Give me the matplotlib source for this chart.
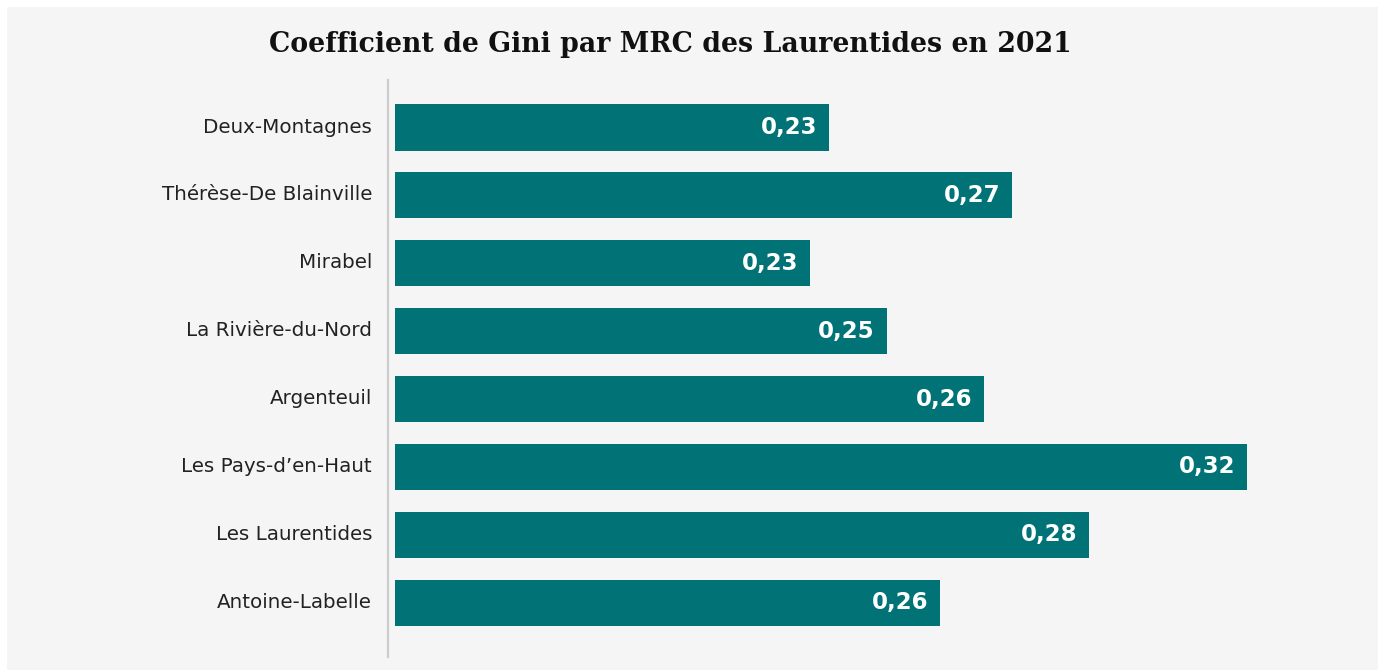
import matplotlib.pyplot as plt
from matplotlib.patches import Rectangle
from matplotlib.transforms import ScaledTranslation

# MRC names, top to bottom
mrc = ['Deux-Montagnes', 'Thérèse-De Blainville', 'Mirabel', 'La Rivière-du-Nord',
       'Argenteuil', 'Les Pays-d\u2019en-Haut', 'Les Laurentides', 'Antoine-Labelle']
# Gini values as printed on the bars
gini_labels = ['0,23', '0,27', '0,23', '0,25', '0,26', '0,32', '0,28', '0,26']
# bar ends (the chart's baseline is not zero)
gini = [0.2301, 0.2695, 0.2260, 0.2425, 0.2634, 0.3201, 0.2860, 0.2540]
base = 0.1366

W, H = 1378, 670
fig = plt.figure(figsize=(W / 100, H / 100), dpi=100)
fig.patch.set_facecolor('white')
# grey panel with white border on top/left
fig.add_artist(Rectangle((7 / W, -0.01), 1.01, 1.01 - 7 / H, transform=fig.transFigure,
                         facecolor='#f5f5f5', edgecolor='none', zorder=-10))

left_px, right_px, top_px, bot_px = 388, 1300, 80, 657
ax = fig.add_axes([left_px / W, 1 - bot_px / H, (right_px - left_px) / W, (bot_px - top_px) / H])
ax.set_facecolor('none')

teal = '#017377'
y = list(range(len(mrc)))
bars = ax.barh(y, [g - base for g in gini], left=base, height=0.68, color=teal)

x_lo = base - 7 / 4644
ax.set_xlim(x_lo, x_lo + (right_px - left_px) / 4644)
ax.set_ylim(7.80, -0.70)

for b, lab in zip(bars, gini_labels):
    ax.annotate(lab, (b.get_x() + b.get_width(), b.get_y() + b.get_height() / 2),
                xytext=(-8.5, 0), textcoords='offset points', ha='right', va='center',
                color='white', fontsize=16.5, fontweight='bold', family='DejaVu Sans')

ax.set_yticks(y)
ax.set_yticklabels(mrc, fontsize=14.3, color='#222222', family='DejaVu Sans')
ax.tick_params(axis='y', length=0, pad=11.5)
shift = ScaledTranslation(0, 2.5 / 100, fig.dpi_scale_trans)
for t in ax.get_yticklabels():
    t.set_va('center_baseline')
    t.set_transform(t.get_transform() + shift)
ax.set_xticks([])
for s in ['top', 'right', 'bottom']:
    ax.spines[s].set_visible(False)
ax.spines['left'].set_color('#cccccc')
ax.spines['left'].set_linewidth(1.6)

fig.text(670 / W, 1 - 45 / H, 'Coefficient de Gini par MRC des Laurentides en 2021',
         ha='center', va='center', fontsize=19.3, fontweight='bold', family='DejaVu Serif',
         color='#111111')

fig.savefig('out.png', dpi=100)
